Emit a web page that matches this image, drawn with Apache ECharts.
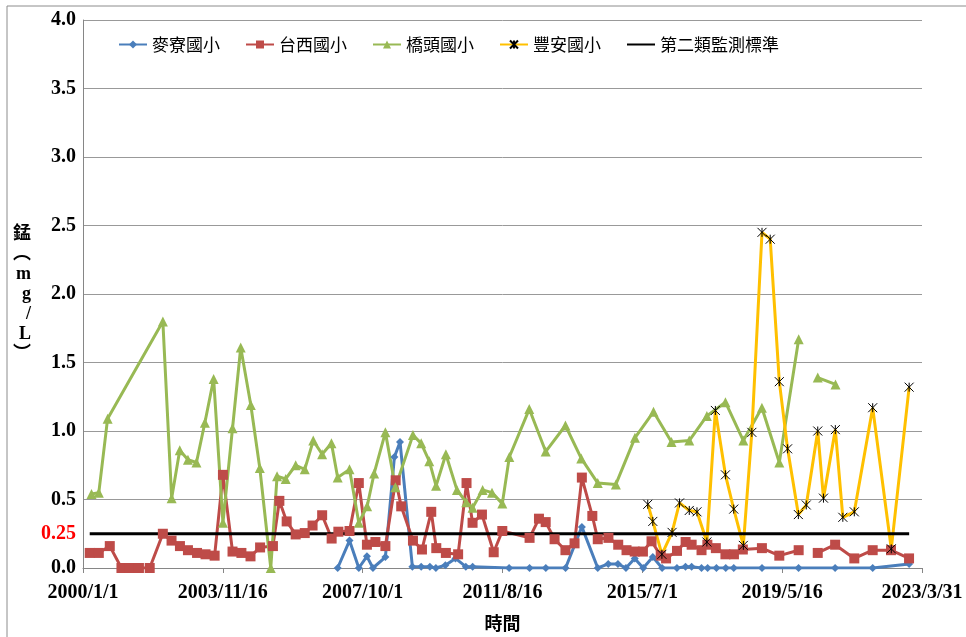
<!DOCTYPE html>
<html>
<head>
<meta charset="utf-8">
<script src="https://cdn.jsdelivr.net/npm/echarts@6/dist/echarts.min.js"></script>
<style>
    html, body { margin: 0; padding: 0; background: #fff; }
    #echarts-main { width: 966px; height: 637px; }
</style>
</head>
<body>
<div id="echarts-main"></div>
<script>
    // 麥寮國小
    const maiDates = ['2007/1/21','2007/5/21','2007/8/23','2007/11/13','2008/1/13','2008/5/18','2008/8/17','2008/10/13',
        '2009/2/15','2009/5/15','2009/8/11','2009/10/11','2010/1/15','2010/4/27','2010/8/10','2010/10/18',
        '2011/10/22','2012/5/16','2012/10/27','2013/5/15','2013/10/27','2014/4/6','2014/7/21','2014/10/27',
        '2015/1/16','2015/4/15','2015/7/10','2015/10/15','2016/1/17','2016/6/15','2016/9/10','2016/11/11',
        '2017/2/19','2017/4/22','2017/7/20','2017/10/22','2018/1/11','2018/10/24','2019/10/29','2020/11/2',
        '2021/11/17','2022/11/21']
    const maiVals = [0,0.20,0,0.085,0,0.08,0.81,0.92,
        0.01,0.01,0.01,0,0.02,0.07,0.01,0.01,
        0,0,0,0,0.30,0,0.03,0.03,
        0,0.07,0,0.08,0,0,0.01,0.01,
        0,0,0,0,0,0,0,0,
        0,0.03]

    // 台西國小
    const taixiDates = ['2000/3/9','2000/6/9','2000/9/28','2001/1/24','2001/4/17','2001/7/20','2001/11/6',
        '2002/3/19','2002/6/15','2002/9/8','2002/11/28','2003/2/28','2003/5/25','2003/8/25','2003/11/17',
        '2004/2/22','2004/5/22','2004/8/22','2004/11/27','2005/4/6','2005/6/10','2005/8/23','2005/11/22',
        '2006/2/22','2006/5/12','2006/8/17','2006/11/21','2007/1/28','2007/5/21','2007/8/23','2007/11/13',
        '2008/2/7','2008/5/18','2008/8/30','2008/10/25','2009/2/21','2009/5/23','2009/8/25','2009/10/15',
        '2010/1/20','2010/5/24','2010/8/17','2010/10/17','2011/1/20','2011/5/19','2011/8/14',
        '2012/5/16','2012/8/19','2012/10/26','2013/1/24','2013/5/14','2013/8/14','2013/10/27',
        '2014/2/10','2014/4/6','2014/7/23','2014/10/30','2015/1/22','2015/4/15','2015/7/7','2015/10/2',
        '2016/1/3','2016/2/26','2016/6/16','2016/9/11','2016/11/11','2017/2/19','2017/4/19','2017/7/14','2017/10/19',
        '2018/1/13','2018/4/13','2018/10/23','2019/4/17','2019/10/30','2020/1/15','2020/5/10','2020/11/2',
        '2021/5/15','2021/11/17','2022/5/21','2022/11/20']
    const taixiVals = [0.11,0.11,0.16,0,0,0,0,
        0.25,0.20,0.16,0.13,0.11,0.10,0.09,0.68,
        0.12,0.11,0.085,0.15,0.16,0.49,0.34,0.245,
        0.255,0.31,0.385,0.215,0.265,0.27,0.62,0.17,
        0.19,0.16,0.64,0.45,0.20,0.135,0.41,0.145,
        0.11,0.10,0.62,0.33,0.39,0.115,0.27,
        0.22,0.36,0.335,0.21,0.13,0.18,0.66,
        0.38,0.21,0.22,0.17,0.13,0.12,0.12,0.195,
        0.09,0.07,0.125,0.19,0.17,0.13,0.17,0.145,0.10,
        0.10,0.135,0.145,0.09,0.13,null,0.11,0.17,
        0.07,0.13,0.13,0.07]

    // 橋頭國小
    const qiaotouDates = ['2000/3/27','2000/6/9','2000/9/6','2002/3/19','2002/6/16','2002/9/6','2002/11/28',
        '2003/2/22','2003/5/18','2003/8/15','2003/11/17','2004/2/22','2004/5/15','2004/8/25','2004/11/24',
        '2005/3/15','2005/5/18','2005/8/13','2005/11/22','2006/2/22','2006/5/19','2006/8/17','2006/11/19',
        '2007/1/21','2007/5/21','2007/8/23','2007/11/15','2008/1/25','2008/5/18','2008/8/27',
        '2009/2/21','2009/5/15','2009/8/5','2009/10/13','2010/1/20','2010/5/12','2010/8/14','2010/10/17',
        '2011/1/27','2011/5/2','2011/8/14','2011/10/24','2012/5/13','2012/10/26','2013/5/14','2013/10/21',
        '2014/4/6','2014/10/6','2015/4/17','2015/10/22','2016/4/21','2016/10/18','2017/4/14','2017/10/19',
        '2018/4/18','2018/10/23','2019/4/17','2019/10/30','2020/1/15','2020/5/10','2020/11/6']
    const qiaotouVals = [0.54,0.55,1.09,1.80,0.51,0.86,0.79,
        0.77,1.06,1.38,0.33,1.02,1.61,1.19,0.73,
        0,0.67,0.65,0.75,0.72,0.93,0.83,0.91,
        0.66,0.72,0.33,0.45,0.69,0.99,0.59,
        0.97,0.91,0.78,0.60,0.83,0.57,0.48,0.44,
        0.57,0.55,0.47,0.81,1.16,0.85,1.04,0.80,
        0.62,0.61,0.95,1.14,0.92,0.93,1.11,1.21,
        0.93,1.17,0.77,1.67,null,1.39,1.34]

    // 豐安國小
    const fenganDates = ['2015/8/25','2015/10/15','2016/1/15','2016/4/27','2016/7/11','2016/10/18','2017/1/4',
        '2017/4/14','2017/7/9','2017/10/19','2018/1/11','2018/4/18','2018/7/13','2018/10/24','2019/1/15',
        '2019/4/17','2019/7/10','2019/10/27','2020/1/15','2020/5/10','2020/7/7','2020/11/4','2021/1/19',
        '2021/5/15','2021/11/17','2022/5/24','2022/11/21']
    const fenganVals = [0.465,0.34,0.10,0.26,0.475,0.42,0.41,
        0.19,1.15,0.68,0.43,0.165,0.99,2.45,2.40,
        1.36,0.87,0.39,0.46,1.00,0.51,1.01,0.37,
        0.41,1.17,0.14,1.32]

    // 第二類監測標準
    const stdDates = ['2000/3/9','2022/11/21']
    const stdVals = [0.25,0.25]

    const yLabelVals = [0,0.25,0.5,1,1.5,2,2.5,3,3.5,4]

    const DAY = 86400000
    const BASE = Date.UTC(2000,0,1)

    function toDay(s){
        const p = s.split('/').map(Number)
        return (Date.UTC(p[0],p[1]-1,p[2]) - BASE) / DAY
    }
    function pairs(dates, vals){
        return dates.map((d,i)=>[toDay(d), vals[i]])
    }

    const serifFont = "'Liberation Serif', 'Times New Roman', serif"
    const cjkFont = "'Liberation Serif', 'Noto Sans CJK TC', serif"

    const starPath = 'path://M0,0L10,10M10,0L0,10M5,0L5,10'

    let myChart = echarts.init(document.getElementById('echarts-main'))

    const option = {
        animation: false,
        backgroundColor: '#fff',
        graphic: [
            {
                type: 'rect',
                shape: { x: 7, y: 6, width: 980, height: 660 },
                style: { fill: 'none', stroke: '#8c8c8c', lineWidth: 1 },
                silent: true
            }
        ],
        grid: {
            left: 83,
            right: 44,
            top: 20,
            bottom: 68
        },
        legend: {
            left: 113,
            top: 31,
            itemWidth: 28,
            itemHeight: 10,
            itemGap: 25,
            textStyle: {
                fontFamily: "'Noto Sans CJK TC'",
                fontSize: 17,
                color: '#000'
            },
            data: ['麥寮國小','台西國小','橋頭國小','豐安國小',
                { name: '第二類監測標準', itemStyle: { opacity: 0 } }]
        },
        xAxis: {
            type: 'value',
            min: 0,
            max: 8490,
            interval: 1415,
            name: '時間',
            nameLocation: 'middle',
            nameGap: 46,
            nameTextStyle: {
                fontFamily: "'Noto Sans CJK TC'",
                fontSize: 18,
                fontWeight: 'bold',
                color: '#000'
            },
            axisLine: { show: true, lineStyle: { color: '#868686', width: 1 } },
            axisTick: { show: true, length: 5, lineStyle: { color: '#868686' } },
            splitLine: { show: false },
            axisLabel: {
                margin: 15,
                fontFamily: serifFont,
                fontWeight: 'bold',
                fontSize: 20,
                color: '#000',
                formatter: function (v) {
                    const d = new Date(BASE + Math.round(v) * DAY)
                    return d.getUTCFullYear() + '/' + (d.getUTCMonth()+1) + '/' + d.getUTCDate()
                }
            }
        },
        yAxis: {
            type: 'value',
            min: 0,
            max: 4,
            interval: 0.5,
            name: '錳\n︵\nm\ng\n/\nL\n︶',
            nameLocation: 'middle',
            nameRotate: 0,
            nameGap: 52,
            nameTextStyle: {
                fontFamily: cjkFont,
                fontSize: 18,
                fontWeight: 'bold',
                lineHeight: 20,
                color: '#000'
            },
            axisLine: { show: true, lineStyle: { color: '#868686', width: 1 } },
            axisTick: { show: false },
            splitLine: { show: true, lineStyle: { color: '#999', width: 1 } },
            axisLabel: {
                margin: 7,
                customValues: yLabelVals,
                fontFamily: serifFont,
                fontWeight: 'bold',
                fontSize: 20,
                color: '#000',
                formatter: function (v) {
                    if (Math.abs(v - 0.25) < 1e-6) return '{r|0.25}'
                    return v.toFixed(1)
                },
                rich: {
                    r: {
                        fontFamily: serifFont,
                        fontWeight: 'bold',
                        fontSize: 20,
                        color: '#ff0000'
                    }
                }
            }
        },
        series: [
            {
                name: '麥寮國小',
                type: 'line',
                data: pairs(maiDates, maiVals),
                symbol: 'diamond',
                symbolSize: 8,
                itemStyle: { color: '#4A7EBB' },
                lineStyle: { color: '#4A7EBB', width: 3 }
            },
            {
                name: '台西國小',
                type: 'line',
                data: pairs(taixiDates, taixiVals),
                symbol: 'rect',
                symbolSize: 10,
                itemStyle: { color: '#BE4B48' },
                lineStyle: { color: '#BE4B48', width: 3 }
            },
            {
                name: '橋頭國小',
                type: 'line',
                data: pairs(qiaotouDates, qiaotouVals),
                symbol: 'triangle',
                symbolSize: 10,
                itemStyle: { color: '#98B954' },
                lineStyle: { color: '#98B954', width: 3 }
            },
            {
                name: '豐安國小',
                type: 'line',
                data: pairs(fenganDates, fenganVals),
                symbol: starPath,
                symbolSize: 9,
                itemStyle: { color: 'rgba(0,0,0,0)', borderColor: '#000', borderWidth: 1 },
                lineStyle: { color: '#FFC000', width: 3 }
            },
            {
                name: '第二類監測標準',
                type: 'line',
                data: pairs(stdDates, stdVals),
                symbol: 'none',
                itemStyle: { color: '#000' },
                lineStyle: { color: '#000', width: 3 }
            }
        ]
    }

    option && myChart.setOption(option)
</script>
</body>
</html>
